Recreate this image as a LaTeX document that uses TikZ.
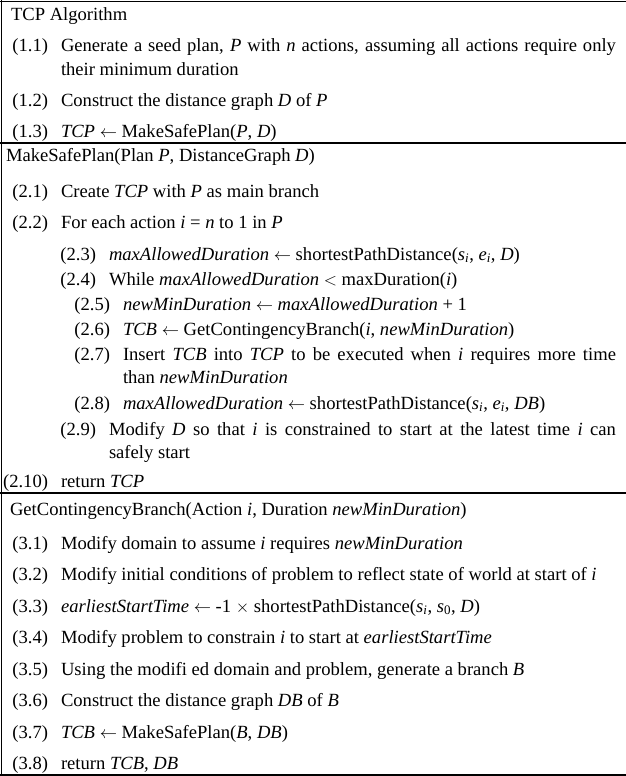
\documentclass[tikz,border=0pt]{standalone}
\usepackage{fontspec}
\setmainfont{Liberation Serif}
\newcommand\vv[1]{\textit{#1}}
\newcommand\subv[2]{\textit{#1}\textsubscript{\textit{#2}}}
\newcommand\subn[2]{\textit{#1}\textsubscript{#2}}
\newcommand\larr{\ensuremath{\leftarrow}}
\begin{document}
\begin{tikzpicture}[x=1pt,y=-1pt,
  every node/.style={inner sep=0pt,outer sep=0pt,font=\fontsize{18.6}{22}\selectfont},
  lbl/.style={anchor=base east},
  txt/.style={anchor=base west},
  frame/.style={line width=1.6pt,black}]
\useasboundingbox (0,0) rectangle (626,776);
% frame
\draw[frame] (0,1.5) -- (626,1.5);
\draw[frame] (1.5,0) -- (1.5,776);
\draw[frame] (0,775) -- (626,775);
\draw[frame] (0,143) -- (626,143);
\draw[frame] (0,493) -- (626,493);
% section 1
\node[txt] (h1) at (11,21) {TCP Algorithm};
\node[lbl] (l11) at (48,52) {(1.1)};
\node[txt] (t11) at (61,52) {\makebox[555pt][s]{Generate a seed plan, \vv{P} with \vv{n} actions, assuming all actions require only}};
\node[txt] (t11b) at (61,75) {their minimum duration};
\node[lbl] (l12) at (48,106) {(1.2)};
\node[txt] (t12) at (61,106) {Construct the distance graph \vv{D} of \vv{P}};
\node[lbl] (l13) at (48,137) {(1.3)};
\node[txt] (t13) at (61,137) {\vv{TCP} \larr{} MakeSafePlan(\vv{P}, \vv{D})};
% section 2
\node[txt] (h2) at (6,161) {MakeSafePlan(Plan \vv{P}, DistanceGraph \vv{D})};
\node[lbl] (l21) at (48,197) {(2.1)};
\node[txt] (t21) at (61,197) {Create \vv{TCP} with \vv{P} as main branch};
\node[lbl] (l22) at (48,228) {(2.2)};
\node[txt] (t22) at (61,228) {For each action \vv{i} = \vv{n} to 1 in \vv{P}};
\node[lbl] (l23) at (96,260) {(2.3)};
\node[txt] (t23) at (109,260) {\vv{maxAllowedDuration} \larr{} shortestPathDistance(\subv{s}{i}, \subv{e}{i}, \vv{D})};
\node[lbl] (l24) at (96,285) {(2.4)};
\node[txt] (t24) at (109,285) {While \vv{maxAllowedDuration} $<$ maxDuration(\vv{i})};
\node[lbl] (l25) at (110,310) {(2.5)};
\node[txt] (t25) at (123,310) {\vv{newMinDuration} \larr{} \vv{maxAllowedDuration} + 1};
\node[lbl] (l26) at (110,335) {(2.6)};
\node[txt] (t26) at (123,335) {\vv{TCB} \larr{} GetContingencyBranch(\vv{i}, \vv{newMinDuration})};
\node[lbl] (l27) at (110,360) {(2.7)};
\node[txt] (t27) at (123,360) {\makebox[493pt][s]{Insert \vv{TCB} into \vv{TCP} to be executed when \vv{i} requires more time}};
\node[txt] (t27b) at (123,383) {than \vv{newMinDuration}};
\node[lbl] (l28) at (110,409) {(2.8)};
\node[txt] (t28) at (123,409) {\vv{maxAllowedDuration} \larr{} shortestPathDistance(\subv{s}{i}, \subv{e}{i}, \vv{DB})};
\node[lbl] (l29) at (96,435) {(2.9)};
\node[txt] (t29) at (109,435) {\makebox[507pt][s]{Modify \vv{D} so that \vv{i} is constrained to start at the latest time \vv{i} can}};
\node[txt] (t29b) at (109,458) {safely start};
\node[lbl] (l210) at (48,487) {(2.10)};
\node[txt] (t210) at (61,487) {return \vv{TCP}};
% section 3
\node[txt] (h3) at (10,515) {GetContingencyBranch(Action \vv{i}, Duration \vv{newMinDuration})};
\node[lbl] (l31) at (48,549) {(3.1)};
\node[txt] (t31) at (61,549) {Modify domain to assume \vv{i} requires \vv{newMinDuration}};
\node[lbl] (l32) at (48,580) {(3.2)};
\node[txt] (t32) at (61,580) {Modify initial conditions of problem to reflect state of world at start of \vv{i}};
\node[lbl] (l33) at (48,612) {(3.3)};
\node[txt] (t33) at (61,612) {\vv{earliestStartTime} \larr{} -1 $\times$ shortestPathDistance(\subv{s}{i}, \subn{\textit{s}}{0}, \vv{D})};
\node[lbl] (l34) at (48,643) {(3.4)};
\node[txt] (t34) at (61,643) {Modify problem to constrain \vv{i} to start at \vv{earliestStartTime}};
\node[lbl] (l35) at (48,675) {(3.5)};
\node[txt] (t35) at (61,675) {Using the modifi ed domain and problem, generate a branch \vv{B}};
\node[lbl] (l36) at (48,706) {(3.6)};
\node[txt] (t36) at (61,706) {Construct the distance graph \vv{DB} of \vv{B}};
\node[lbl] (l37) at (48,738) {(3.7)};
\node[txt] (t37) at (61,738) {\vv{TCB} \larr{} MakeSafePlan(\vv{B}, \vv{DB})};
\node[lbl] (l38) at (48,769) {(3.8)};
\node[txt] (t38) at (61,769) {return \vv{TCB}, \vv{DB}};
\end{tikzpicture}
\end{document}
